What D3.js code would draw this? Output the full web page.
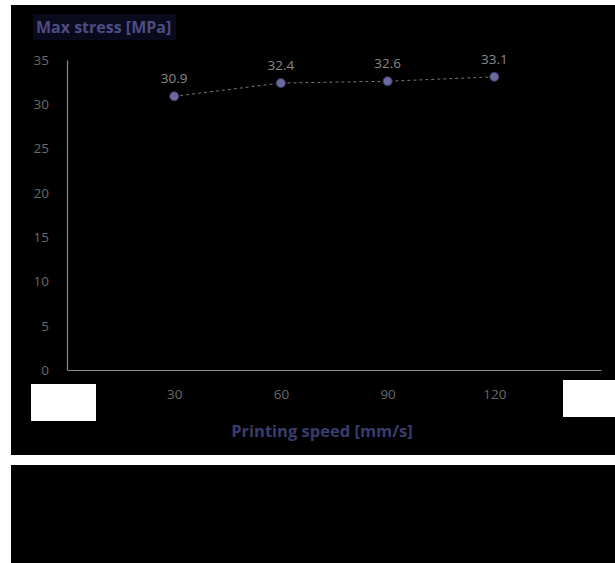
<!DOCTYPE html>
<html>
<head>
<meta charset="utf-8">
<script src="https://cdn.jsdelivr.net/npm/d3@7"></script>
<style>
  html, body { margin: 0; padding: 0; background: #fff; }
  svg { display: block; font-family: "Open Sans", sans-serif; }
</style>
</head>
<body>
<svg id="chart" width="615" height="563"></svg>
<script>
// categories: first and last slots exist on the axis but their labels are covered
const speeds = ["", "30", "60", "90", "120", " "];
const stress = [null, 30.9, 32.4, 32.6, 33.1, null];
const yTicks = [0, 5, 10, 15, 20, 25, 30, 35];
const yTitle = "Max stress [MPa]";
const xTitle = "Printing speed [mm/s]";

const svg = d3.select("#chart");

// black panels
svg.append("rect").attr("x", 11).attr("y", 5).attr("width", 604).attr("height", 450).attr("fill", "#000");
svg.append("rect").attr("x", 11).attr("y", 465).attr("width", 604).attr("height", 98).attr("fill", "#000");

const x = d3.scalePoint().domain(speeds).range([67.5, 601]);
const y = d3.scaleLinear().domain([0, 35]).range([370, 60]);

// y axis
const yAx = svg.append("g").attr("transform", "translate(67,0)")
  .call(d3.axisLeft(y).tickValues(yTicks).tickSize(0).tickPadding(18));
yAx.select(".domain").attr("stroke", "#8c8c8c").attr("stroke-width", 1.2);
yAx.selectAll("text").attr("fill", "#6a6a6a").attr("font-size", 13.5).attr("font-family", "Open Sans, sans-serif");

// x axis
const xAx = svg.append("g").attr("transform", "translate(0,370)")
  .call(d3.axisBottom(x).tickSize(0).tickPadding(19));
xAx.select(".domain").attr("stroke", "#8c8c8c").attr("stroke-width", 1.2);
xAx.selectAll("text").attr("fill", "#6a6a6a").attr("font-size", 13.5).attr("font-family", "Open Sans, sans-serif");

// series
const pts = speeds.map((s, i) => ({ s, v: stress[i] })).filter(d => d.v != null);
svg.append("path").datum(pts)
  .attr("fill", "none").attr("stroke", "#777").attr("stroke-width", 1).attr("stroke-dasharray", "3,3")
  .attr("d", d3.line().x(d => x(d.s)).y(d => y(d.v)));
svg.append("g").selectAll("circle").data(pts).join("circle")
  .attr("cx", d => x(d.s)).attr("cy", d => y(d.v)).attr("r", 4.5)
  .attr("fill", "#6a6a9c").attr("stroke", "#3a3a6a").attr("stroke-width", 1);
svg.append("g").selectAll("text").data(pts).join("text")
  .attr("x", d => x(d.s)).attr("y", d => y(d.v) - 13)
  .attr("text-anchor", "middle").attr("font-size", 13.5).attr("fill", "#8a8a8a")
  .text(d => d.v.toFixed(1));

// white boxes over the end labels
svg.append("rect").attr("x", 31).attr("y", 384).attr("width", 65).attr("height", 37).attr("fill", "#fff");
svg.append("rect").attr("x", 563).attr("y", 380).attr("width", 52).attr("height", 37).attr("fill", "#fff");

// titles
svg.append("rect").attr("x", 33).attr("y", 14).attr("width", 143).attr("height", 26).attr("fill", "#0a0a1c");
svg.append("text").attr("x", 36).attr("y", 33).attr("font-size", 16).attr("font-weight", "bold")
  .attr("fill", "#4d4d82").text(yTitle);
svg.append("text").attr("x", 322).attr("y", 437).attr("text-anchor", "middle")
  .attr("font-size", 16.5).attr("font-weight", "bold").attr("fill", "#3c3c6c").text(xTitle);
</script>
</body>
</html>
